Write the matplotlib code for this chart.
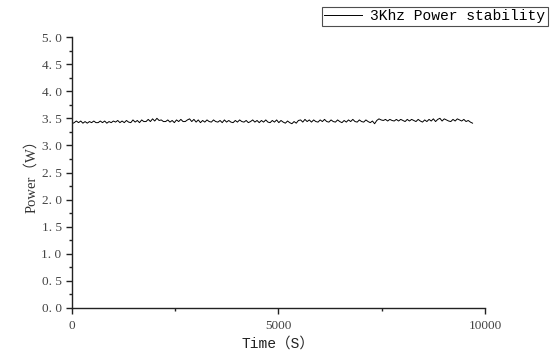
import numpy as np
import matplotlib
matplotlib.use("Agg")
import matplotlib.pyplot as plt
from matplotlib.ticker import MultipleLocator, FuncFormatter

plt.rcParams['font.family'] = ['Liberation Serif', 'Noto Sans CJK SC', 'DejaVu Sans']
MONO = ['Liberation Mono', 'Noto Sans CJK SC', 'DejaVu Sans Mono']

power = [
    3.40, 3.42, 3.45, 3.42, 3.45, 3.41, 3.44, 3.41, 3.44, 3.42,
    3.45, 3.42, 3.42, 3.45, 3.42, 3.45, 3.41, 3.44, 3.42, 3.45,
    3.43, 3.46, 3.42, 3.45, 3.42, 3.46, 3.43, 3.42, 3.47, 3.43,
    3.46, 3.42, 3.47, 3.44, 3.44, 3.48, 3.44, 3.49, 3.45, 3.50,
    3.46, 3.47, 3.44, 3.44, 3.47, 3.43, 3.46, 3.42, 3.47, 3.44,
    3.48, 3.44, 3.44, 3.47, 3.49, 3.44, 3.48, 3.43, 3.47, 3.42,
    3.46, 3.43, 3.47, 3.44, 3.43, 3.47, 3.44, 3.43, 3.46, 3.42,
    3.47, 3.43, 3.46, 3.43, 3.42, 3.46, 3.43, 3.47, 3.44, 3.43,
    3.46, 3.42, 3.44, 3.47, 3.43, 3.46, 3.42, 3.46, 3.43, 3.47,
    3.43, 3.42, 3.46, 3.43, 3.47, 3.42, 3.46, 3.43, 3.41, 3.45,
    3.42, 3.40, 3.44, 3.41, 3.46, 3.47, 3.43, 3.48, 3.44, 3.47,
    3.43, 3.47, 3.44, 3.43, 3.47, 3.44, 3.48, 3.44, 3.43, 3.47,
    3.44, 3.43, 3.47, 3.44, 3.42, 3.46, 3.43, 3.47, 3.44, 3.48,
    3.44, 3.43, 3.47, 3.44, 3.43, 3.47, 3.44, 3.42, 3.45, 3.40,
    3.46, 3.49, 3.47, 3.46, 3.48, 3.45, 3.48, 3.46, 3.45, 3.48,
    3.45, 3.48, 3.46, 3.44, 3.48, 3.45, 3.48, 3.46, 3.44, 3.48,
    3.45, 3.43, 3.47, 3.44, 3.48, 3.45, 3.49, 3.44, 3.48, 3.50,
    3.45, 3.49, 3.47, 3.45, 3.44, 3.48, 3.45, 3.49, 3.47, 3.45,
    3.48, 3.44, 3.46, 3.43, 3.41,
]
t_end = 9700
time = np.linspace(0, t_end, len(power))

fig = plt.figure(figsize=(5.6, 3.58), dpi=100)
ax = fig.add_axes([0.1286, 0.1397, 0.866 - 0.1286, 0.8966 - 0.1397])

ax.plot(time, power, color='black', lw=0.7, label='3Khz Power stability')

ax.set_xlim(0, 10000)
ax.set_ylim(0, 5)
ax.spines['top'].set_visible(False)
ax.spines['right'].set_visible(False)
for s in ('left', 'bottom'):
    ax.spines[s].set_linewidth(1.0)
    ax.spines[s].set_color('#222222')

ax.xaxis.set_major_locator(MultipleLocator(5000))
ax.xaxis.set_minor_locator(MultipleLocator(2500))
ax.yaxis.set_major_locator(MultipleLocator(0.5))
ax.yaxis.set_minor_locator(MultipleLocator(0.25))
ax.yaxis.set_major_formatter(FuncFormatter(lambda v, p: f"{v:.1f}".replace('.', '. ')))
ax.tick_params(axis='both', which='major', direction='out', length=4, width=1,
               labelsize=9.5, colors='#222222')
ax.tick_params(axis='both', which='minor', direction='out', length=2.5, width=1, colors='#222222')
ax.tick_params(axis='both', labelcolor='#444444')
ax.tick_params(axis='x', pad=5)

ax.set_xlabel('Time（S）', fontsize=10.5, color='#222222', labelpad=3, family=MONO)
ax.set_ylabel('Power（W）', fontsize=10.5, color='#333333', labelpad=2)

leg = fig.legend(loc='upper right', bbox_to_anchor=(0.978, 0.98),
                 prop={'family': MONO, 'size': 10.5},
                 frameon=True, fancybox=False, edgecolor='#222222',
                 handlelength=2.6, handletextpad=0.6, borderpad=0.15, borderaxespad=0)
leg.get_frame().set_linewidth(0.8)

fig.savefig('out.png', dpi=100)
